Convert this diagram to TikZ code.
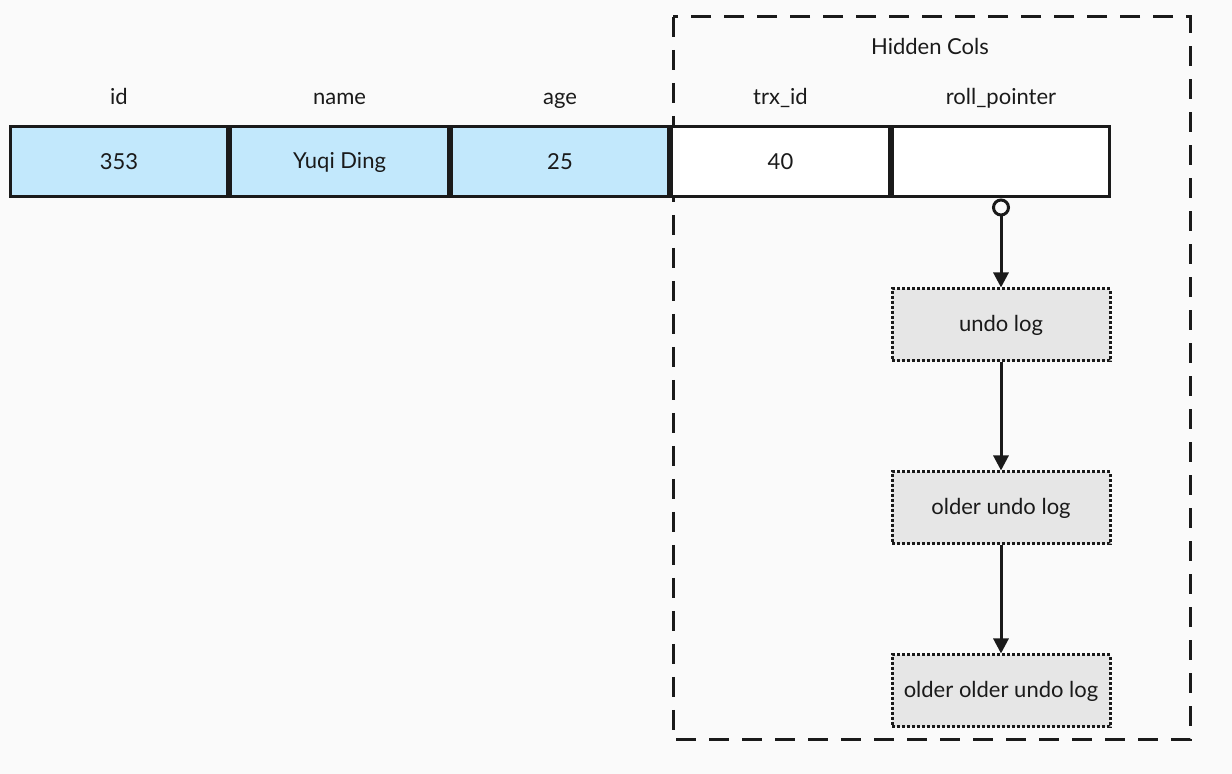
\documentclass[tikz,border=0pt]{standalone}
\usepackage{fontspec}
\setmainfont{Lato}
\usetikzlibrary{positioning,arrows.meta}

\definecolor{cellblue}{RGB}{194,232,252}
\definecolor{loggray}{RGB}{230,230,230}
\definecolor{inkdark}{RGB}{26,26,26}
\definecolor{bgwhite}{RGB}{250,250,250}

\tikzset{
  cell/.style={draw=inkdark, line width=1.5pt, minimum width=108.75pt,
    minimum height=35pt, font=\fontsize{11}{13}\selectfont, text=inkdark},
  datacell/.style={cell, fill=cellblue},
  hidcell/.style={cell, fill=white},
  hdr/.style={font=\fontsize{11}{13}\selectfont, text=inkdark,
    text height=1.5ex, text depth=.25ex, inner sep=2pt},
  logbox/.style={draw=inkdark, fill=loggray, line width=1.5pt,
    dash pattern=on 1.5pt off 1pt, minimum width=109pt, minimum height=36pt,
    font=\fontsize{11}{13}\selectfont, text=inkdark},
  hidden/.style={draw=inkdark, line width=1.5pt, dash pattern=on 10pt off 6.5pt},
  link/.style={draw=inkdark, line width=1.5pt,
    -{Triangle[length=7.5pt,width=7.5pt]}}
}

\begin{document}
\begin{tikzpicture}[x=0.5pt,y=-0.5pt]
    \fill[bgwhite] (0,0) rectangle (1232,774);
    \useasboundingbox (0,0) rectangle (1232,774);

    % hidden columns frame
    \draw[hidden] (673,17) rectangle (1190,740);
    \node[hdr] (hid) at (930,48) {Hidden Cols};

    % the row
    \node[datacell] (c1) at (119,162) {353};
    \node[datacell, right=0pt of c1] (c2) {Yuqi Ding};
    \node[datacell, right=0pt of c2] (c3) {25};
    \node[hidcell, right=0pt of c3] (trx) {40};
    \node[hidcell, right=0pt of trx] (rp) {};

    \node[hdr, above=7pt of c1] (h1) {id};
    \node[hdr, above=7pt of c2] (h2) {name};
    \node[hdr, above=7pt of c3] (h3) {age};
    \node[hdr, above=7pt of trx] (h4) {trx\_id};
    \node[hdr, above=7pt of rp] (h5) {roll\_pointer};

    % undo chain
    \node[logbox, below=44.5pt of rp] (u1) {undo log};
    \node[logbox, below=54pt of u1] (u2) {older undo log};
    \node[logbox, below=54pt of u2] (u3) {older older undo log};

    \draw[link, {Circle[open,length=9pt,width=9pt]}-{Triangle[length=7.5pt,width=7.5pt]}] (rp.south) -- (u1.north);
    \draw[link] (u1) -- (u2);
    \draw[link] (u2) -- (u3);
  \end{tikzpicture}
\end{document}
